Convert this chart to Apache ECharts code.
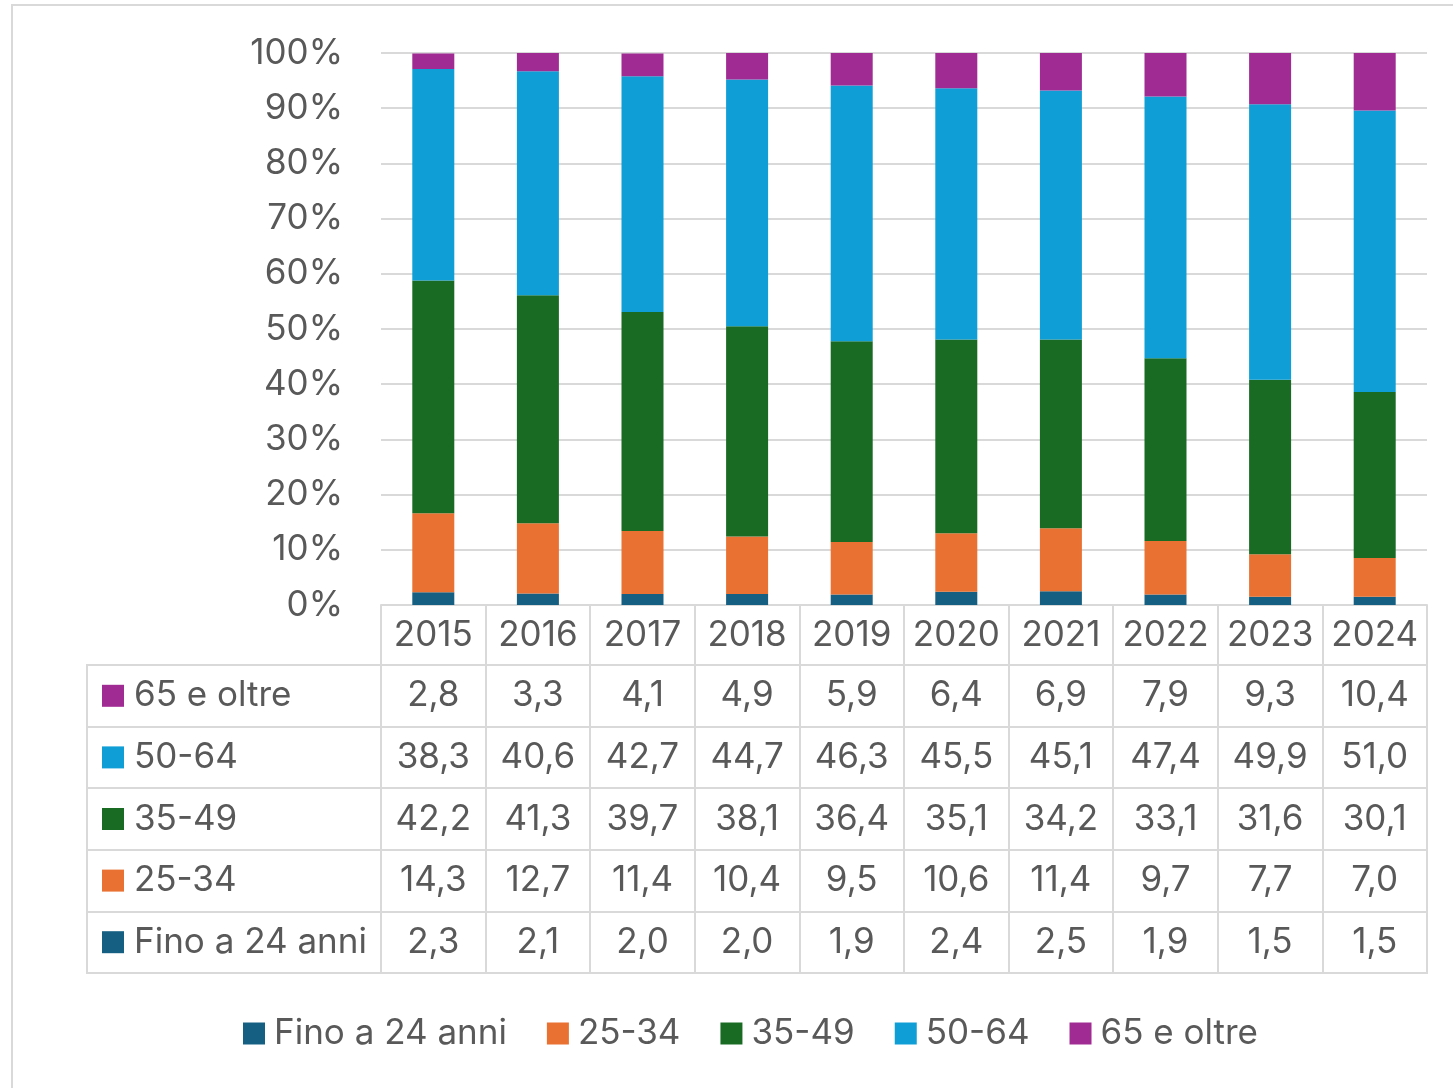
<!DOCTYPE html>
<html>
<head>
<meta charset="utf-8">
<script src="https://cdn.jsdelivr.net/npm/echarts@6/dist/echarts.min.js"></script>
<style>
html,body{margin:0;padding:0;background:#fff;}
#chart{width:1453px;height:1088px;}
</style>
</head>
<body>
<div id="chart"></div>
<script>
const years = ['2015','2016','2017','2018','2019','2020','2021','2022','2023','2024'];
const seriesNames = ['Fino a 24 anni','25-34','35-49','50-64','65 e oltre'];
const colors = ['#156082','#E97132','#196B24','#0F9ED5','#A02B93'];
const fino24 = [2.3,2.1,2.0,2.0,1.9,2.4,2.5,1.9,1.5,1.5];
const age2534 = [14.3,12.7,11.4,10.4,9.5,10.6,11.4,9.7,7.7,7.0];
const age3549 = [42.2,41.3,39.7,38.1,36.4,35.1,34.2,33.1,31.6,30.1];
const age5064 = [38.3,40.6,42.7,44.7,46.3,45.5,45.1,47.4,49.9,51.0];
const age65 = [2.8,3.3,4.1,4.9,5.9,6.4,6.9,7.9,9.3,10.4];
const yTicks = [0,10,20,30,40,50,60,70,80,90,100];

const allValues = [fino24, age2534, age3549, age5064, age65];
const FONT = 'Inter';
const FS = 35;
const TXT = '#595959';
const LINE = '#d9d9d9';
const fmt = v => Number(v).toFixed(1).replace('.', ',');

const tableData = [];
allValues.forEach((arr, r) => arr.forEach((v, i) => tableData.push([i, r, v])));

const rich = { t: { fontSize: FS, fontFamily: FONT, color: TXT, padding: [0,0,0,10] } };
colors.forEach((c, i) => { rich['m' + i] = { width: 22, height: 22, backgroundColor: c }; });

const chart = echarts.init(document.getElementById('chart'), null, { renderer: 'canvas' });
const option = {
  backgroundColor: '#fff',
  animation: false,
  textStyle: { fontFamily: FONT },
  graphic: [{
    type: 'rect', shape: { x: 12, y: 5, width: 1460, height: 1100 },
    style: { fill: 'none', stroke: LINE, lineWidth: 2 }, z: -10, silent: true
  }],
  legend: {
    data: seriesNames, top: 1011, left: 238,
    itemWidth: 22, itemHeight: 22, itemGap: 40, icon: 'rect',
    textStyle: { fontSize: FS, color: TXT, fontFamily: FONT, padding: [0,0,0,4] }
  },
  grid: [
    { left: 381, right: 26, top: 53, height: 552 },
    { left: 381, right: 26, top: 665, height: 308, show: true, borderColor: LINE, borderWidth: 2, backgroundColor: 'transparent' },
    { left: 87, width: 294, top: 665, height: 308, show: true, borderColor: LINE, borderWidth: 2, backgroundColor: 'transparent' }
  ],
  xAxis: [
    { type: 'category', gridIndex: 0, data: years,
      axisLine: { lineStyle: { color: LINE, width: 2 } },
      axisTick: { show: true, length: 60, lineStyle: { color: LINE, width: 2 }, interval: 0 },
      axisLabel: { interval: 0, fontSize: FS, color: TXT, fontFamily: FONT, margin: 30, verticalAlign: 'middle' } },
    { type: 'category', gridIndex: 1, data: years, position: 'top',
      axisLine: { show: false }, axisTick: { show: false }, axisLabel: { show: false },
      splitLine: { show: true, interval: 0, lineStyle: { color: LINE, width: 2 } } },
    { type: 'value', gridIndex: 2, show: false }
  ],
  yAxis: [
    { type: 'value', gridIndex: 0, min: 0, max: 100, interval: 10,
      axisLine: { show: false }, axisTick: { show: false },
      axisLabel: { fontSize: FS, color: TXT, fontFamily: FONT, margin: 38, formatter: v => v + '%',
        customValues: yTicks },
      splitLine: { lineStyle: { color: LINE, width: 2 } } },
    { type: 'category', gridIndex: 1, data: seriesNames,
      axisLine: { show: false }, axisTick: { show: false }, axisLabel: { show: false },
      splitLine: { show: true, interval: 0, lineStyle: { color: LINE, width: 2 } } },
    { type: 'category', gridIndex: 2, data: seriesNames,
      axisLine: { show: false }, axisTick: { show: false },
      axisLabel: { inside: true, margin: 15, interval: 0,
        formatter: (v, idx) => '{m' + idx + '|}{t|' + v + '}', rich: rich },
      splitLine: { show: true, interval: 0, lineStyle: { color: LINE, width: 2 } } }
  ],
  series: seriesNames.map((name, i) => ({
    name: name, type: 'bar', stack: 'total', xAxisIndex: 0, yAxisIndex: 0,
    barWidth: 42, data: allValues[i], itemStyle: { color: colors[i] }
  })).concat([{
    type: 'custom', xAxisIndex: 1, yAxisIndex: 1, data: tableData,
    renderItem: function (params, api) {
      const p = api.coord([api.value(0), api.value(1)]);
      return { type: 'text', x: p[0], y: p[1],
        style: { text: fmt(api.value(2)), fill: TXT, fontSize: FS, fontFamily: FONT, align: 'center', verticalAlign: 'middle' } };
    }
  }])
};
chart.setOption(option);
</script>
</body>
</html>
